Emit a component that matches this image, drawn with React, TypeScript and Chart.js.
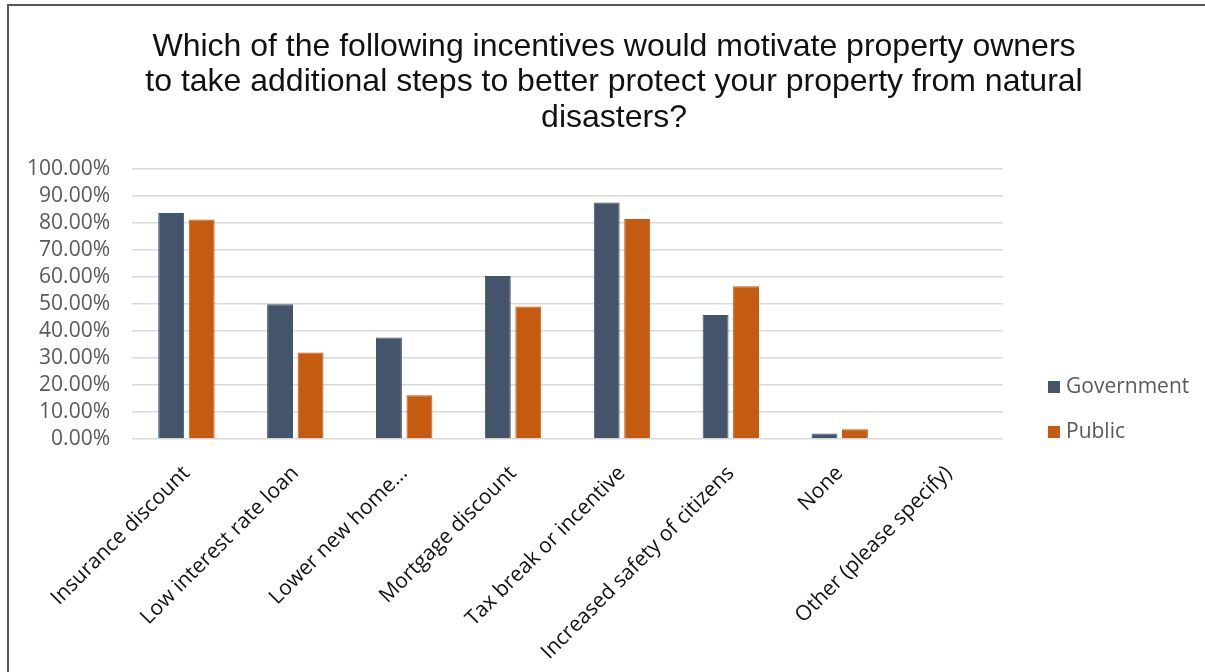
import React, { useEffect, useRef } from "react";
import { Chart, registerables } from "chart.js";

Chart.register(...registerables);

const titleLines = [
  "Which of the following incentives would motivate property owners",
  "to take additional steps to better protect your property from natural",
  "disasters?",
];

const categories = [
  "Insurance discount",
  "Low interest rate loan",
  "Lower new home...",
  "Mortgage discount",
  "Tax break or incentive",
  "Increased safety of citizens",
  "None",
  "Other (please specify)",
];

const seriesNames = ["Government", "Public"];
const governmentValues = [83.7, 49.9, 37.6, 60.4, 87.6, 45.9, 2.0, 0];
const publicValues = [81.3, 32.0, 16.2, 49.1, 81.5, 56.6, 3.6, 0];

const yMin = 0;
const yMax = 100;
const yStep = 10;

const GOV_COLOR = "#44546A";
const PUB_COLOR = "#C55A11";

const decorPlugin = {
  id: "excelDecor",
  afterDraw(chart: any) {
    const ctx = chart.ctx;
    const area = chart.chartArea;
    ctx.save();
    // Title
    ctx.fillStyle = "#111111";
    ctx.font = "32px 'Liberation Sans', Arial, sans-serif";
    ctx.textAlign = "center";
    ctx.textBaseline = "middle";
    const titleX = 614;
    const titleTop = 47;
    const lineGap = 35.5;
    titleLines.forEach((line, i) => {
      ctx.fillText(line, titleX, titleTop + i * lineGap);
    });
    // Legend
    ctx.textAlign = "left";
    ctx.font = "21px 'Open Sans', sans-serif";
    const lx = area.right + 45;
    const ly0 = area.bottom - 52;
    chart.data.datasets.forEach((ds: any, i: number) => {
      const y = ly0 + i * 45;
      ctx.fillStyle = ds.backgroundColor;
      ctx.fillRect(lx, y - 6, 12, 12);
      ctx.fillStyle = "#595959";
      ctx.fillText(ds.label, lx + 18, y);
    });
    ctx.restore();
  },
};

export default function App() {
  const canvasRef = useRef<HTMLCanvasElement | null>(null);

  useEffect(() => {
    if (!canvasRef.current) return;
    const chart = new Chart(canvasRef.current, {
      type: "bar",
      data: {
        labels: categories,
        datasets: [
          {
            label: seriesNames[0],
            data: governmentValues,
            backgroundColor: GOV_COLOR,
            borderColor: categories.map((_, i) => (i === 0 ? "#2F5597" : GOV_COLOR)),
            borderWidth: 1,
            categoryPercentage: 0.56,
            barPercentage: 0.85,
          },
          {
            label: seriesNames[1],
            data: publicValues,
            backgroundColor: PUB_COLOR,
            borderColor: PUB_COLOR,
            borderWidth: 1,
            categoryPercentage: 0.56,
            barPercentage: 0.85,
          },
        ],
      },
      options: {
        animation: false,
        responsive: false,
        maintainAspectRatio: false,
        layout: { padding: { top: 169, left: 0, right: 202, bottom: 0 } },
        plugins: {
          legend: { display: false },
          title: { display: false },
          tooltip: { enabled: false },
        },
        scales: {
          x: {
            grid: { display: false, drawTicks: false },
            border: { display: false },
            ticks: {
              minRotation: 45,
              maxRotation: 45,
              autoSkip: false,
              padding: 22,
              color: "#111111",
              font: { family: "'Open Sans', sans-serif", size: 21 },
            },
            afterFit: (scale: any) => {
              scale.height = 233;
            },
          },
          y: {
            min: yMin,
            max: yMax,
            ticks: {
              stepSize: yStep,
              autoSkip: false,
              padding: 22,
              color: "#595959",
              font: { family: "'Open Sans', sans-serif", size: 21 },
              callback: (v: any) => Number(v).toFixed(2) + "%",
            },
            grid: { color: "#D9D9D9", lineWidth: 1.5, drawTicks: false },
            border: { display: false },
            afterFit: (scale: any) => {
              scale.width = 132;
            },
          },
        },
      },
      plugins: [decorPlugin],
    });
    return () => chart.destroy();
  }, []);

  return (
    <div style={{ position: "fixed", left: 0, top: 0, width: 1205, height: 672, background: "#ffffff", overflow: "hidden" }}>
      <div
        style={{
          position: "absolute",
          left: 7,
          top: 4,
          width: 1400,
          height: 900,
          borderTop: "2px solid #555555",
          borderLeft: "2px solid #555555",
        }}
      />
      <canvas ref={canvasRef} width={1205} height={672} style={{ position: "absolute", left: 0, top: 0 }} />
    </div>
  );
}
